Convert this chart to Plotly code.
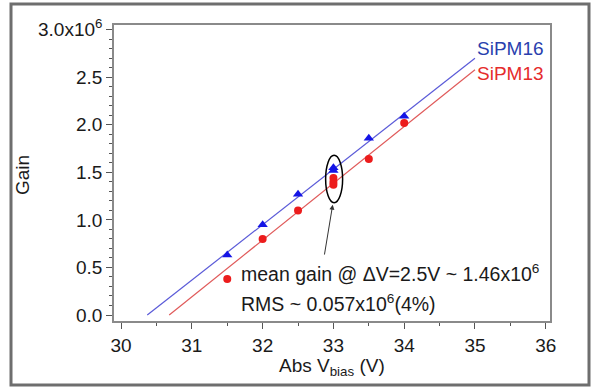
import plotly.graph_objects as go

# ---- data ----
volts16 = [31.5, 32.0, 32.5, 33.0, 33.0, 33.5, 34.0]
gain16 = [0.63e6, 0.95e6, 1.27e6, 1.55e6, 1.52e6, 1.86e6, 2.09e6]
volts13 = [31.5, 32.0, 32.5, 33.0, 33.0, 33.0, 33.5, 34.0]
gain13 = [0.38e6, 0.80e6, 1.10e6, 1.44e6, 1.40e6, 1.37e6, 1.64e6, 2.02e6]

fit16_v = [30.37, 35.0]
fit16_g = [0.0, 2.70e6]
fit13_v = [30.68, 35.0]
fit13_g = [0.0, 2.58e6]

ytick_vals = [0, 0.5e6, 1.0e6, 1.5e6, 2.0e6, 2.5e6, 3.0e6]
ytick_text = ["0.0", "0.5", "1.0", "1.5", "2.0", "2.5", "3.0x10<sup>6</sup>"]
xtick_vals = [30, 31, 32, 33, 34, 35, 36]

FONT = "Arial, Liberation Sans, sans-serif"
BLUE_M = "#1414e6"
RED_M = "#ec1c1c"
BLUE_L = "#5a5ad8"
RED_L = "#e05a5a"

fig = go.Figure()
fig.add_trace(go.Scatter(x=fit16_v, y=fit16_g, mode="lines",
                         line=dict(color=BLUE_L, width=1.2), showlegend=False))
fig.add_trace(go.Scatter(x=fit13_v, y=fit13_g, mode="lines",
                         line=dict(color=RED_L, width=1.2), showlegend=False))
fig.add_trace(go.Scatter(x=volts16, y=gain16, mode="markers",
                         marker=dict(symbol="triangle-up", size=9, color=BLUE_M),
                         showlegend=False))
fig.add_trace(go.Scatter(x=volts13, y=gain13, mode="markers",
                         marker=dict(symbol="circle", size=8, color=RED_M),
                         showlegend=False))

L, R, T, B = 114, 44, 25, 67
W, H = 594, 388
pw, ph = W - L - R, H - T - B

def px(xp):
    return (xp - L) / pw

def py(yp):
    return (H - B - yp) / ph

fig.update_layout(
    width=W, height=H,
    margin=dict(l=L, r=R, t=T, b=B),
    paper_bgcolor="white", plot_bgcolor="white",
    font=dict(family=FONT, size=19, color="#1a1a1a"),
    showlegend=False,
)

fig.update_xaxes(
    range=[29.9, 36.06], tickvals=xtick_vals,
    ticks="outside", ticklen=6, tickwidth=1, tickcolor="#555",
    minor=dict(ticks="outside", ticklen=3, dtick=0.5, tick0=30, tickcolor="#555"),
    showline=True, linecolor="#8a8a8a", linewidth=1.5, mirror=True,
    showgrid=False, zeroline=False,
)
fig.update_yaxes(
    range=[-0.063e6, 3.05e6], tickvals=ytick_vals, ticktext=ytick_text,
    ticks="outside", ticklen=6, tickwidth=1, tickcolor="#555",
    minor=dict(ticks="outside", ticklen=3, tickmode="linear", dtick=1e5, tick0=0, tickcolor="#555"),
    showline=True, linecolor="#8a8a8a", linewidth=1.5, mirror=True,
    showgrid=False, zeroline=False,
)

# ellipse around the 33 V cluster
fig.add_shape(type="circle", xref="x", yref="y",
              x0=32.89, x1=33.13, y0=1.18e6, y1=1.68e6,
              line=dict(color="black", width=1.5))

# arrow
fig.add_annotation(x=32.99, y=1.16e6, ax=32.87, ay=0.62e6,
                   xref="x", yref="y", axref="x", ayref="y",
                   text="", showarrow=True, arrowhead=2, arrowsize=1,
                   arrowwidth=1, arrowcolor="#333")

# text annotations
fig.add_annotation(x=31.66, y=0.44e6, xref="x", yref="y",
                   text="mean gain @ \u0394V=2.5V ~ 1.46x10<sup>6</sup>",
                   showarrow=False, xanchor="left", yanchor="middle",
                   font=dict(size=19.5, color="#1a1a1a"))
fig.add_annotation(x=31.66, y=0.13e6, xref="x", yref="y",
                   text="RMS ~ 0.057x10<sup>6</sup>(4%)",
                   showarrow=False, xanchor="left", yanchor="middle",
                   font=dict(size=19.5, color="#1a1a1a"))

# series labels
fig.add_annotation(x=px(546), y=py(48), xref="paper", yref="paper",
                   text="SiPM16", showarrow=False, xanchor="right", yanchor="middle",
                   font=dict(size=19, color="#2a3fae"))
fig.add_annotation(x=px(546), y=py(73), xref="paper", yref="paper",
                   text="SiPM13", showarrow=False, xanchor="right", yanchor="middle",
                   font=dict(size=19, color="#e52b2b"))

# axis titles
fig.add_annotation(x=px(22), y=py(175), xref="paper", yref="paper",
                   text="Gain", textangle=-90, showarrow=False,
                   xanchor="center", yanchor="middle", font=dict(size=19))
fig.add_annotation(x=px(332), y=py(367), xref="paper", yref="paper",
                   text="Abs V<sub>bias</sub> (V)", showarrow=False,
                   xanchor="center", yanchor="middle", font=dict(size=19))

# outer frame
fig.add_shape(type="rect", xref="paper", yref="paper",
              x0=px(11), x1=px(589), y0=py(385), y1=py(4),
              line=dict(color="#6e6e6e", width=3), layer="below")

fig.write_html("out.html",
               config={"displayModeBar": False},
               post_script="document.body.style.margin='0';document.body.style.overflow='hidden';")
